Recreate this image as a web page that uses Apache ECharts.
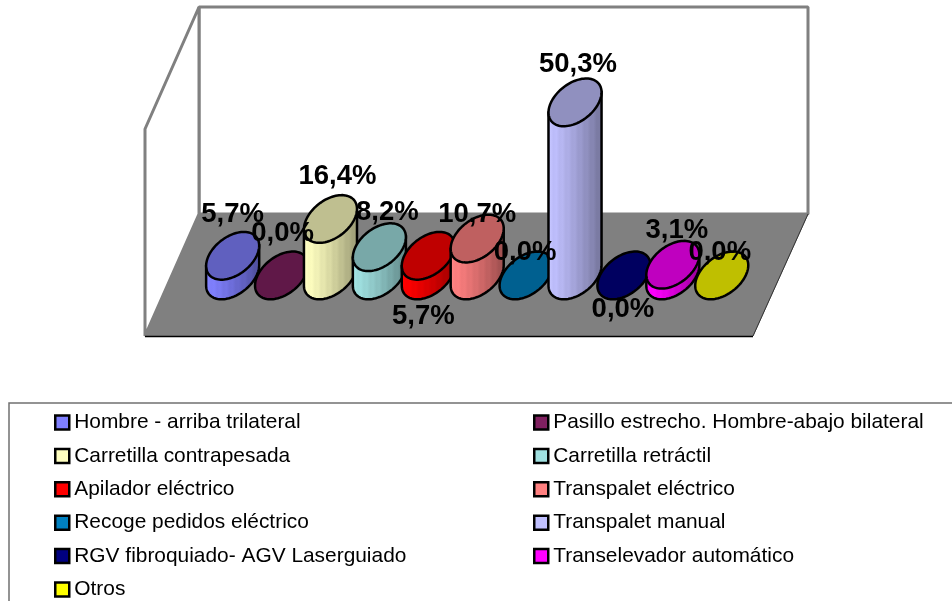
<!DOCTYPE html>
<html>
<head>
<meta charset="utf-8">
<script src="https://cdn.jsdelivr.net/npm/echarts@6/dist/echarts.min.js"></script>
<style>
html, body { margin: 0; padding: 0; background: #fff; overflow: hidden; }
#main { width: 952px; height: 601px; }
</style>
</head>
<body>
<div id="main"></div>
<script>
var categories = ['Hombre - arriba trilateral', 'Pasillo estrecho. Hombre-abajo bilateral', 'Carretilla contrapesada', 'Carretilla retráctil', 'Apilador eléctrico', 'Transpalet eléctrico', 'Recoge pedidos eléctrico', 'Transpalet manual', 'RGV fibroquiado- AGV Laserguiado', 'Transelevador automático', 'Otros'];
var values = [5.7, 0.0, 16.4, 8.2, 5.7, 10.7, 0.0, 50.3, 0.0, 3.1, 0.0];
var colors = ['#8080FF', '#802060', '#FFFFC0', '#A0E0E0', '#FF0000', '#FF8080', '#0080C0', '#C0C0FF', '#000080', '#FF00FF', '#FFFF00'];
// labels were moved by hand in the original, offsets from the top of each cylinder
var labelDx = [0, 1, 7, 8, -5, 0, -1, 3, -1, 4, -2];
var labelDy = [-41, -42, -43, -35, 61, -24, -23, -38, 34, -34, -23];

var myChart = echarts.init(document.getElementById('main'));

function shade(hex, f) {
	var n = parseInt(hex.slice(1), 16);
	var r = Math.min(255, Math.round((n >> 16) * f));
	var g = Math.min(255, Math.round(((n >> 8) & 255) * f));
	var b = Math.min(255, Math.round((n & 255) * f));
	return 'rgb(' + r + ',' + g + ',' + b + ')';
}

// vertical stripes on the side of the cylinder
function sideFill(hex) {
	var stops = [];
	for (var k = 0; k <= 18; k++) {
		var p = k / 18;
		stops.push({ offset: p, color: shade(hex, 1 - 0.42 * Math.pow(p, 1.3) + (k % 2 ? 0.03 : 0)) });
	}
	return new echarts.graphic.LinearGradient(0, 0, 1, 0, stops);
}

// tilted ellipse around 0,0
function discOutline(major, minor) {
	var tilt = 38 * Math.PI / 180, pts = [];
	for (var i = 0; i < 96; i++) {
		var t = i / 96 * Math.PI * 2;
		var u = major * Math.cos(t);
		var v = minor * Math.sin(t);
		pts.push([u * Math.cos(tilt) + v * Math.sin(tilt), -u * Math.sin(tilt) + v * Math.cos(tilt)]);
	}
	return pts;
}

function renderCylinder(params, api) {
	var top = api.coord([api.value(0), api.value(1)]);
	var base = api.coord([api.value(0), 0]);
	var band = api.size([1, 0])[0];
	var outline = discOutline(band * 0.618, band * 0.388);
	var color = colors[params.seriesIndex];
	var rightIdx = 0, leftIdx = 0;
	outline.forEach(function(p, i) {
		if (p[0] > outline[rightIdx][0]) rightIdx = i;
		if (p[0] < outline[leftIdx][0]) leftIdx = i;
	});
	var disc = outline.map(function(p) { return [top[0] + p[0], top[1] + p[1]]; });
	// front of the base, right edge round the bottom to the left edge
	var side = [];
	for (var i = rightIdx; ; i = (i + 1) % outline.length) {
		side.push([base[0] + outline[i][0], base[1] + outline[i][1]]);
		if (i == leftIdx) break;
	}
	side.push([top[0] + outline[leftIdx][0], top[1] + outline[leftIdx][1]]);
	side.push([top[0] + outline[rightIdx][0], top[1] + outline[rightIdx][1]]);
	var children = [];
	if (base[1] - top[1] > 0.5) {
		children.push({
			type: 'polygon',
			shape: { points: side },
			style: { fill: sideFill(color), stroke: '#000', lineWidth: 2.5 }
		});
	}
	children.push({
		type: 'polygon',
		shape: { points: disc },
		style: { fill: shade(color, 0.75), stroke: '#000', lineWidth: 2.5 }
	});
	return { type: 'group', children: children };
}

function renderLabel(params, api) {
	var i = params.dataIndex;
	var top = api.coord([api.value(0), api.value(1)]);
	return {
		type: 'text',
		x: top[0] + labelDx[i],
		y: top[1] + labelDy[i],
		style: {
			text: values[i].toFixed(1).replace('.', ',') + '%',
			fill: '#000',
			font: 'bold 27.5px "Liberation Sans"',
			align: 'center',
			verticalAlign: 'middle'
		}
	};
}

var series = [];
for (var i = 0; i < categories.length; i++) {
	series.push({
		name: categories[i],
		type: 'custom',
		coordinateSystem: 'cartesian2d',
		renderItem: renderCylinder,
		itemStyle: { color: colors[i] },
		data: [[i, values[i]]],
		silent: true,
		z: 3
	});
}
series.push({
	type: 'custom',
	coordinateSystem: 'cartesian2d',
	renderItem: renderLabel,
	data: values.map(function(v, i) { return [i, v]; }),
	silent: true,
	z: 5
});

function legendColumn(names, left) {
	return {
		data: names,
		orient: 'vertical',
		left: left,
		top: 412,
		padding: 0,
		itemGap: 12.4,
		itemWidth: 14,
		itemHeight: 14,
		selectedMode: false,
		icon: 'rect',
		itemStyle: { borderColor: '#000', borderWidth: 2.5 },
		textStyle: { color: '#000', fontSize: 20.9, fontFamily: 'Liberation Sans' }
	};
}

var option = {
	animation: false,
	backgroundColor: '#fff',
	tooltip: { show: false },
	grid: { left: 208.2, top: 69, width: 538, height: 206.4 },
	xAxis: { type: 'category', data: categories, show: false },
	yAxis: { type: 'value', min: 0, max: 60, show: false },
	legend: [
		legendColumn(categories.filter(function(c, i) { return i % 2 == 0; }), 54),
		legendColumn(categories.filter(function(c, i) { return i % 2 == 1; }), 533)
	],
	// walls, floor and legend frame
	graphic: [
		{ type: 'polygon', z: 0, silent: true, shape: { points: [[199, 7], [808, 7], [808, 214], [199, 214]] }, style: { fill: '#fff', stroke: '#808080', lineWidth: 3, lineJoin: 'bevel' } },
		{ type: 'polygon', z: 0, silent: true, shape: { points: [[199, 7], [199, 214], [145, 336], [145, 129]] }, style: { fill: '#fff', stroke: '#808080', lineWidth: 3, lineJoin: 'bevel' } },
		{ type: 'polygon', z: 0, silent: true, shape: { points: [[199, 214], [808, 214], [753, 336], [145, 336]] }, style: { fill: '#808080', stroke: '#808080', lineWidth: 1, lineJoin: 'bevel' } },
		{ type: 'line', z: 0, silent: true, shape: { x1: 145, y1: 336.5, x2: 753, y2: 336.5 }, style: { stroke: '#000', lineWidth: 1.5 } },
		{ type: 'line', z: 0, silent: true, shape: { x1: 808, y1: 214, x2: 753, y2: 336 }, style: { stroke: '#333', lineWidth: 1 } },
		{ type: 'rect', z: 0, silent: true, shape: { x: 9, y: 403, width: 980, height: 240 }, style: { fill: 'none', stroke: '#707070', lineWidth: 1.5 } }
	],
	series: series
};
myChart.setOption(option);
</script>
</body>
</html>
